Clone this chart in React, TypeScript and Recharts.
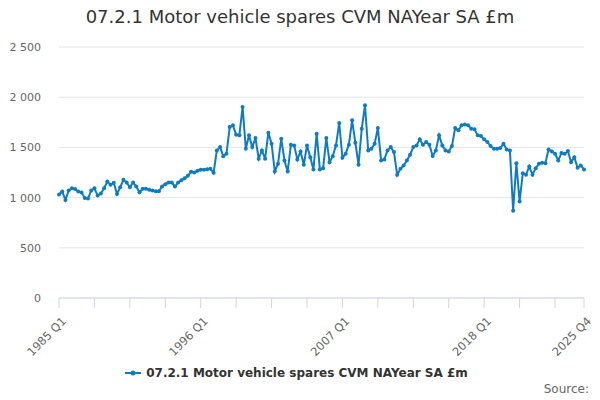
import React from "react"
import { LineChart, Line, XAxis, YAxis, CartesianGrid, Legend } from "recharts"

const TITLE = "07.2.1 Motor vehicle spares CVM NAYear SA £m"
const SERIES_NAME = "07.2.1 Motor vehicle spares CVM NAYear SA £m"
const LINE_COLOR = "#0f7cc0"

const START_YEAR = 1985
const END_YEAR = 2025
const QUARTERS = ["Q1", "Q2", "Q3", "Q4"]

// 1985 Q1 .. 2025 Q4
const categories: string[] = []
for (let y = START_YEAR; y <= END_YEAR; y++) {
  for (const q of QUARTERS) categories.push(`${y} ${q}`)
}

// £m
const values = [
  // 1985 - 1990
  1030, 1060, 977, 1070, 1093, 1085, 1060, 1050, 997, 990, 1070, 1093,
  1020, 1040, 1093, 1160, 1127, 1147, 1037, 1103, 1177, 1150, 1103, 1150,
  // 1991 - 1997
  1110, 1053, 1087, 1087, 1077, 1070, 1063, 1063, 1110, 1133, 1150, 1150,
  1110, 1150, 1173, 1193, 1217, 1257, 1250, 1267, 1277, 1277, 1283, 1287, 1247,
  1470, 1503, 1413, 1437, 1703, 1720, 1627, 1620, 1903, 1487, 1620, 1503,
  1593, 1387, 1470, 1387, 1647, 1537, 1260, 1337, 1587, 1370,
  1260, 1527, 1520, 1380, 1460, 1327, 1520, 1403, 1280, 1637, 1280, 1293,
  1593, 1353, 1413, 1520, 1743, 1397, 1437, 1527, 1770, 1547, 1327, 1687,
  1920, 1470, 1487, 1537, 1693, 1370, 1380, 1470, 1503, 1453, 1227, 1287,
  1320, 1370, 1427, 1503, 1520, 1580, 1527, 1553, 1527, 1415, 1470,
  1620, 1520, 1470, 1460, 1513, 1693, 1670, 1720, 1727, 1720, 1687, 1680,
  1620, 1613, 1580, 1553, 1513, 1487, 1487, 1493, 1537, 1480, 1470,
  870, 1343, 960, 1243, 1227, 1310, 1227, 1293, 1337, 1347, 1343, 1480,
  1460, 1437, 1370, 1443, 1437, 1463, 1353, 1403, 1297, 1320, 1280,
]

const yTicks = [0, 500, 1000, 1500, 2000, 2500]
const labelledTicks = ["1985 Q1", "1996 Q1", "2007 Q1", "2018 Q1", "2025 Q4"]
// tick marks every 11 quarters, plus the last one
const xTicks = categories.filter((_, i) => i % 11 === 0 && i < 160).concat(["2025 Q4"])

const data = categories.map((c, i) => ({ quarter: c, value: values[i] }))

const fmt = (v: number) => v.toLocaleString("en-US").replace(/,/g, " ")

const FONT = "'DejaVu Sans', sans-serif"

function XTick(props: any) {
  const { x, y, payload } = props
  if (!labelledTicks.includes(payload.value)) return null
  return (
    <g transform={`translate(${x + 5},${y + 7})`}>
      <text
        textAnchor="end"
        transform="rotate(-45)"
        fontSize={11.5}
        fill="#666666"
        fontFamily={FONT}
        dy="0.35em"
      >
        {payload.value}
      </text>
    </g>
  )
}

function LegendContent() {
  return (
    <div style={{ display: "flex", justifyContent: "center", alignItems: "center", height: 20 }}>
      <svg width={16} height={12} style={{ marginRight: 5 }}>
        <line x1={0} y1={6} x2={16} y2={6} stroke={LINE_COLOR} strokeWidth={2} />
        <circle cx={8} cy={6} r={2.5} fill={LINE_COLOR} />
      </svg>
      <span style={{ fontFamily: FONT, fontSize: 12, fontWeight: "bold", color: "#333333" }}>
        {SERIES_NAME}
      </span>
    </div>
  )
}

export default function App() {
  return (
    <div style={{ position: "absolute", left: 0, top: 0, width: 600, height: 400, background: "#fff" }}>
      <div
        style={{
          position: "absolute",
          top: 6,
          left: 0,
          width: 600,
          textAlign: "center",
          fontFamily: FONT,
          fontSize: 18,
          color: "#333333",
        }}
      >
        {TITLE}
      </div>
      <LineChart
        width={600}
        height={400}
        data={data}
        margin={{ top: 47, right: 16, bottom: 17, left: 9 }}
      >
        <CartesianGrid vertical={false} stroke="#e6e6e6" />
        <XAxis
          dataKey="quarter"
          ticks={xTicks}
          interval={0}
          tick={<XTick />}
          tickSize={10}
          tickMargin={4}
          stroke="#ccd6eb"
          height={65}
        />
        <YAxis
          domain={[0, 2500]}
          ticks={yTicks}
          width={50}
          axisLine={false}
          tickLine={false}
          tickMargin={12}
          tickFormatter={fmt}
          tick={{ fontSize: 11, fill: "#666666", fontFamily: FONT }}
        />
        <Legend verticalAlign="bottom" content={<LegendContent />} />
        <Line
          type="linear"
          dataKey="value"
          name={SERIES_NAME}
          stroke={LINE_COLOR}
          strokeWidth={2}
          dot={{ r: 2, fill: LINE_COLOR, stroke: LINE_COLOR, strokeWidth: 0 }}
          isAnimationActive={false}
        />
      </LineChart>
      <div
        style={{
          position: "absolute",
          right: 11,
          top: 382,
          fontFamily: FONT,
          fontSize: 12,
          color: "#666666",
        }}
      >
        Source:
      </div>
    </div>
  )
}
